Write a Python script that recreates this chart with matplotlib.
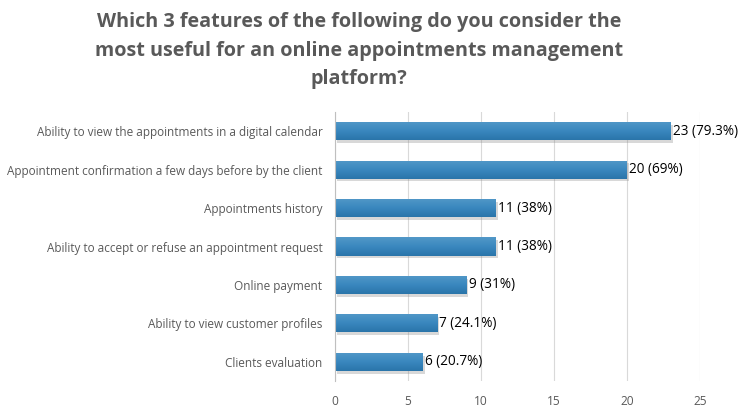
import numpy as np
import matplotlib
matplotlib.use('Agg')
import matplotlib.pyplot as plt
import matplotlib.patheffects as pe
from matplotlib.colors import LinearSegmentedColormap

# data
features = ['Ability to view the appointments in a digital calendar',
            'Appointment confirmation a few days before by the client',
            'Appointments history',
            'Ability to accept or refuse an appointment request',
            'Online payment',
            'Ability to view customer profiles',
            'Clients evaluation']
counts = [23, 20, 11, 11, 9, 7, 6]
pct_labels = ['79.3%', '69%', '38%', '38%', '31%', '24.1%', '20.7%']
xticks = [0, 5, 10, 15, 20, 25]

title = ('Which 3 features of the following do you consider the\n'
         'most useful for an online appointments management\n'
         'platform?')

plt.rcParams['font.family'] = ['Open Sans', 'DejaVu Sans']

fig = plt.figure(figsize=(7.48, 4.19), dpi=100)
ax = fig.add_axes([335/748, 1-381/419, 365/748, 269/419])

y = np.arange(len(features))
bh = 0.47
bars = ax.barh(y, counts, height=bh, color='#3a86bc', zorder=3,
               path_effects=[pe.SimplePatchShadow(offset=(1.5, -2), shadow_rgbFace='#808080', alpha=0.3),
                             pe.Normal()])

# vertical gradient on each bar, like the excel fill
grad = LinearSegmentedColormap.from_list('g', ['#2a75aa', '#3a88bf', '#5298c8'])
g = np.linspace(0, 1, 50).reshape(-1, 1)
for b in bars:
    x0, y0 = b.get_x(), b.get_y()
    im = ax.imshow(g, cmap=grad, aspect='auto', origin='lower',
                   extent=[x0, x0 + b.get_width(), y0 + b.get_height(), y0], zorder=3.5)
    im.set_clip_path(b)

for i in range(len(counts)):
    ax.text(counts[i] + 0.15, y[i], '%d (%s)' % (counts[i], pct_labels[i]),
            va='center', ha='left', fontsize=9.8, color='black', zorder=4)

ax.set_yticks(y)
ax.set_yticklabels(features, fontsize=8.5, color='#595959')
ax.set_ylim(len(features) - 0.5, -0.5)
ax.set_xlim(0, 25)
ax.set_aspect('auto')
ax.set_xticks(xticks)
ax.set_xticklabels([str(v) for v in xticks], fontsize=8.6, color='#595959')
ax.tick_params(axis='both', length=0)
ax.tick_params(axis='x', pad=10)
ax.tick_params(axis='y', pad=9)
ax.grid(axis='x', color='#d9d9d9', linewidth=0.8, zorder=0)
for s in ['top', 'right', 'bottom']:
    ax.spines[s].set_visible(False)
ax.spines['left'].set_color('#bfbfbf')
ax.spines['left'].set_zorder(5)

fig.text(359/748, 1-12/419, title, ha='center', va='top', fontsize=14.2,
         fontweight='bold', color='#595959', linespacing=1.58)

fig.savefig('out.png', dpi=100)
